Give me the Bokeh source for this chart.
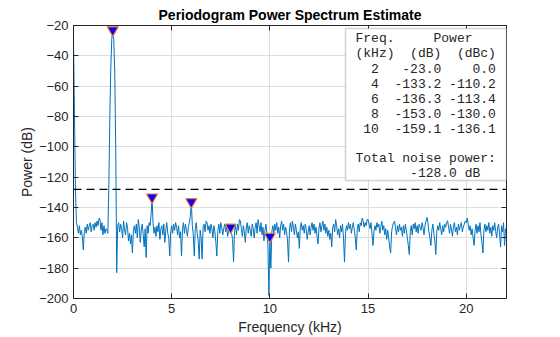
from bokeh.plotting import figure
from bokeh.models import (Range1d, LinearAxis, Span, BoxAnnotation, Label, FixedTicker,
                          ColumnDataSource, CustomJSTickFormatter)
from bokeh.embed import file_html
from bokeh.resources import INLINE

# ---------------- data ----------------
bin_khz = 0.05
power_db = [
    # 0.00 - 0.95
    -30, -78, -128, -150, -153, -157, -152, -158, -155, -159,
    -168, -156, -153, -157, -151, -155, -152, -150, -156, -152,
    # 1.00 - 1.95
    -151, -155, -150, -153, -149, -152, -147, -148, -155, -150,
    -158, -152, -157, -154, -155, -157, -125, -80, -48, -29,
    # 2.00 - 2.95
    -23, -29, -50, -100, -183, -152, -150, -156, -151, -154,
    -160, -149, -155, -158, -150, -153, -162, -157, -164, -158,
    # 3.00 - 3.95
    -170, -155, -152, -157, -151, -160, -148, -153, -163, -155,
    -151, -158, -166, -154, -173, -152, -157, -150, -152, -145,
    # 4.00 - 4.95
    -133.2, -150, -157, -153, -159, -152, -156, -150, -161, -154,
    -152, -158, -151, -163, -155, -150, -157, -160, -172, -156,
    # 5.00 - 5.95
    -152, -157, -151, -155, -150, -153, -158, -152, -160, -156,
    -172, -154, -150, -157, -151, -155, -159, -153, -150, -146,
    # 6.00 - 6.95
    -136.3, -152, -158, -172, -154, -150, -157, -162, -174, -155,
    -160, -174, -153, -151, -156, -149, -150, -155, -152, -157,
    # 7.00 - 7.95
    -151, -154, -160, -152, -156, -163, -172, -155, -151, -157,
    -150, -153, -158, -154, -151, -156, -153, -159, -155, -151,
    # 8.00 - 8.95
    -153.0, -157, -161, -176, -156, -152, -158, -151, -155, -148,
    -149, -154, -159, -152, -156, -163, -153, -150, -157, -152,
    # 9.00 - 9.95
    -155, -159, -151, -154, -160, -153, -150, -157, -148, -152,
    -156, -150, -158, -153, -162, -155, -151, -157, -165, -198,
    # 10.00 - 10.95
    -159.1, -180, -156, -152, -158, -151, -155, -150, -157, -153,
    -160, -152, -149, -155, -151, -158, -153, -156, -162, -176,
    # 11.00 - 11.95
    -154, -150, -156, -149, -153, -158, -151, -155, -160, -156,
    -167, -153, -150, -155, -152, -157, -151, -154, -161, -156,
    # 12.00 - 12.95
    -152, -158, -153, -150, -155, -151, -157, -153, -159, -164,
    -154, -150, -156, -152, -149, -155, -151, -157, -153, -159,
    # 13.00 - 13.95
    -155, -161, -157, -166, -153, -151, -156, -148, -152, -158,
    -154, -160, -152, -156, -151, -160, -176, -157, -152, -155,
    # 14.00 - 14.95
    -150, -154, -151, -157, -153, -150, -155, -160, -168, -154,
    -151, -156, -150, -152, -147, -149, -153, -150, -152, -148,
    # 15.00 - 15.95
    -148, -151, -154, -150, -157, -165, -156, -152, -155, -150,
    -153, -151, -157, -153, -149, -155, -152, -158, -154, -161,
    # 16.00 - 16.95
    -155, -160, -166, -170, -156, -152, -150, -149, -154, -158,
    -152, -156, -151, -155, -153, -159, -152, -157, -151, -155,
    # 17.00 - 17.95
    -160, -165, -171, -156, -152, -158, -151, -154, -150, -156,
    -152, -157, -151, -153, -155, -150, -153, -158, -152, -149,
    # 18.00 - 18.95
    -146.5, -150, -156, -160, -165, -155, -151, -157, -162, -171,
    -156, -152, -155, -150, -154, -158, -152, -156, -151, -153,
    # 19.00 - 19.95
    -150, -148.7, -153, -157, -151, -155, -159, -152, -150, -156,
    -153, -158, -151, -155, -152, -150, -156, -153, -151, -149,
    # 20.00 - 20.95
    -150, -147, -151, -155, -152, -158, -154, -160, -165, -155,
    -151, -157, -152, -156, -150, -158, -163, -170, -155, -151,
    # 21.00 - 22.05
    -156, -152, -155, -150, -157, -153, -159, -152, -155, -150,
    -156, -160, -153, -151, -158, -166, -152, -156, -150, -165,
    -154, -156,
]
freq_khz = [round(i * bin_khz, 2) for i in range(len(power_db))]

peak_freq_khz = [2, 4, 6, 8, 10]
peak_power_db = [-23.0, -133.2, -136.3, -153.0, -159.1]
peak_power_dbc = [0.0, -110.2, -113.4, -130.0, -136.1]
total_noise_db = -128.0

x_ticks = [0, 5, 10, 15, 20]
y_ticks = [-200, -180, -160, -140, -120, -100, -80, -60, -40, -20]

# ---------------- figure ----------------
X0, X1 = 0.0, 22.05
Y0, Y1 = -200.0, -20.0
L, R, T, B = 73, 54, 25, 39
W, H = 560, 337
fw, fh = W - L - R, H - T - B

p = figure(width=W, height=H, output_backend="svg", toolbar_location=None,
           x_range=Range1d(X0, X1), y_range=Range1d(Y0, Y1),
           min_border_left=L, min_border_right=R, min_border_top=T, min_border_bottom=B,
           background_fill_color="white", border_fill_color="white")

p.title.text = "Periodogram Power Spectrum Estimate"
p.title.align = "center"
p.title.text_font = "Liberation Sans"
p.title.text_font_size = "14px"
p.title.text_font_style = "bold"
p.title.text_color = "#000000"
p.title.standoff = 6

axcol = "#262626"
for ax in (p.xaxis[0], p.yaxis[0]):
    ax.major_label_text_font = "Liberation Sans"
    ax.major_label_text_font_size = "13px"
    ax.major_label_text_color = axcol
    ax.axis_label_text_font = "Liberation Sans"
    ax.axis_label_text_font_size = "14px"
    ax.axis_label_text_font_style = "normal"
    ax.axis_label_text_color = axcol
    ax.axis_line_color = axcol
    ax.major_tick_line_color = axcol
    ax.major_tick_in = 5
    ax.major_tick_out = 0
    ax.minor_tick_line_color = None
    ax.major_label_standoff = 5
    ax.axis_label_standoff = 3

p.yaxis[0].axis_label_standoff = 1

p.xaxis[0].ticker = FixedTicker(ticks=x_ticks)
p.yaxis[0].ticker = FixedTicker(ticks=y_ticks)
p.xaxis[0].axis_label = "Frequency (kHz)"
p.yaxis[0].axis_label = "Power (dB)"

for loc, ticks in (("right", y_ticks), ("above", x_ticks)):
    ax = LinearAxis(ticker=FixedTicker(ticks=ticks),
                    formatter=CustomJSTickFormatter(code="return ''"))
    ax.major_label_standoff = 0
    ax.axis_line_color = axcol
    ax.major_tick_line_color = axcol
    ax.major_tick_in = 5
    ax.major_tick_out = 0
    ax.minor_tick_line_color = None
    p.add_layout(ax, loc)

p.xgrid.ticker = FixedTicker(ticks=x_ticks)
p.ygrid.ticker = FixedTicker(ticks=y_ticks)
p.grid.grid_line_color = "#dedede"
p.outline_line_color = axcol

src = ColumnDataSource(dict(f=freq_khz, pw=power_db))
p.line("f", "pw", source=src, line_color="#0072BD", line_width=1)

p.add_layout(Span(location=total_noise_db, dimension="width", line_color="#000000",
                  line_dash="8 5", line_width=1.2))

psrc = ColumnDataSource(dict(f=peak_freq_khz, pw=peak_power_db))
p.scatter("f", "pw", source=psrc, marker="inverted_triangle", size=11,
          fill_color="#0000ff", line_color="#f07830", line_width=1.2)

# ---------------- text box ----------------
def xd(px):
    return X0 + (px - L) * (X1 - X0) / fw

def yd(py):
    return Y1 - (py - T) * (Y1 - Y0) / fh

p.add_layout(BoxAnnotation(left=xd(345), right=X1, top=yd(28), bottom=yd(180),
                           fill_color="white", fill_alpha=1.0,
                           line_color="#6e6e6e", line_width=1.5, level="annotation"))

cw = 7.8  # monospace char width px
x_left = 355

def put(text, col, row_y, align="left"):
    p.add_layout(Label(x=xd(x_left + col * cw), y=yd(row_y), text=text,
                       text_font="Liberation Mono", text_font_size="13px",
                       text_color="#262626", text_align=align, text_baseline="middle"))

put("Freq.", 0, 38)
put("Power", 10, 38)
put("(kHz)", 0, 53)
put("(dB)", 7, 53)
put("(dBc)", 13, 53)
for i, (f, pw, dc) in enumerate(zip(peak_freq_khz, peak_power_db, peak_power_dbc)):
    yrow = 68 + 15 * i
    put(f"{f:d}", 3, yrow, "right")
    put(f"{pw:.1f}", 11, yrow, "right")
    put(f"{dc:.1f}", 18, yrow, "right")
put("Total noise power:", 0, 158)
put(f"{total_noise_db:.1f} dB", 7, 173)

open("out.html", "w").write(file_html(p, INLINE))
